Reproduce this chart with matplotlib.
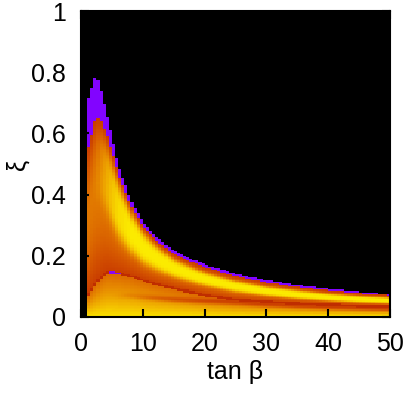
import numpy as np
import matplotlib
matplotlib.use("Agg")
import matplotlib.pyplot as plt

plt.rcParams['font.family'] = ['Liberation Sans', 'DejaVu Sans']

# --- values ---
# knots along tan(beta)
tanb_knots = [1, 1.5, 2.4, 3, 4, 5, 6, 8, 10, 12, 15, 20, 25, 30, 35, 40, 45, 50]
# upper edge of the allowed region in xi
xi_top = [0.69, 0.735, 0.79, 0.76, 0.675, 0.585, 0.50, 0.385, 0.31, 0.265, 0.215,
          0.172, 0.142, 0.12, 0.105, 0.093, 0.082, 0.074]
# lower (dashed) branch boundary
xi_low = [0.07, 0.082, 0.11, 0.125, 0.145, 0.145, 0.143, 0.135, 0.12, 0.108, 0.093,
          0.072, 0.057, 0.05, 0.044, 0.04, 0.036, 0.034]
# thickness of the violet rim below the upper edge
rim_width = [0.15, 0.16, 0.14, 0.11, 0.07, 0.045, 0.03, 0.018, 0.013, 0.011, 0.01,
             0.009, 0.008, 0.007, 0.006, 0.006, 0.004, 0.002]
# strength, relative position and half-width of the bright (yellow) ridge
ridge_amp = [0.0, 0.05, 0.15, 0.3, 0.55, 0.75, 0.9, 1, 1, 1, 1, 1, 1, 1, 1, 1, 1, 1]
ridge_pos = [0.72, 0.72, 0.72, 0.70, 0.68, 0.66, 0.64, 0.62, 0.60, 0.60, 0.59, 0.57,
             0.56, 0.55, 0.54, 0.53, 0.53, 0.53]
ridge_halfwidth = [0.2, 0.2, 0.2, 0.22, 0.24, 0.26, 0.28, 0.29, 0.29, 0.28, 0.26, 0.24,
                   0.23, 0.23, 0.24, 0.25, 0.26, 0.26]
# darker band inside the lower branch
band_center = [0.07, 0.07, 0.07, 0.07, 0.07, 0.07, 0.07, 0.07, 0.066, 0.063, 0.058,
               0.053, 0.05, 0.043, 0.038, 0.034, 0.031, 0.028]
band_amp = [0, 0, 0, 0, 0, 0, 0.05, 0.2, 0.35, 0.5, 0.7, 0.85, 1, 1, 1, 1, 1, 1]

x_ticks = [0, 10, 20, 30, 40, 50]
y_ticks = [0, 0.2, 0.4, 0.6, 0.8, 1]
y_ticklabels = ['0', '0.2', '0.4', '0.6', '0.8', '1']

# --- build the density field on the plotting grid ---
t_edges = np.arange(1.0, 50.0 + 1e-9, 0.5)
x_edges = np.arange(0.0, 1.0 + 1e-9, 0.005)
tc = 0.5 * (t_edges[:-1] + t_edges[1:])
xc = 0.5 * (x_edges[:-1] + x_edges[1:])
T, X = np.meshgrid(tc, xc)

top = np.interp(T, tanb_knots, xi_top)
low = np.interp(T, tanb_knots, xi_low)
rim = np.interp(T, tanb_knots, rim_width)
amp = np.interp(T, tanb_knots, ridge_amp)
rpos = np.interp(T, tanb_knots, ridge_pos)
rhw = np.interp(T, tanb_knots, ridge_halfwidth)
bc = np.interp(T, tanb_knots, band_center)
ba = np.interp(T, tanb_knots, band_amp)

V = np.zeros_like(T)
# lower branch
lower = X < low
lowval = 0.96 - 0.22 * (X / low)
lowval = lowval - ba * (lowval - 0.63) * np.exp(-((X - bc) / 0.009) ** 2)
V[lower] = lowval[lower]
# upper branch
body_top = top - rim
s = np.clip((X - low) / np.maximum(body_top - low, 1e-6), 0, 1)
base = 0.62 + 0.15 * np.sin(np.pi * s)
bump = np.clip(0.97 - base, 0, None) * np.exp(-((s - rpos) / rhw) ** 4)
upper = (X >= low) & (X <= body_top)
V[upper] = (base + amp * bump)[upper]
# violet rim
rimmask = (X > body_top) & (X <= top)
V[rimmask] = 0.26
# dark dashed boundary line
line = np.abs(X - low) < 0.004
V[line & (X <= top)] = 0.56
seg = line & (T > 4.3) & (T < 6.5)
V[seg] = 0.3

fig = plt.figure(figsize=(4.10, 3.93), dpi=100)
ax = fig.add_axes([81 / 410, 1 - 317 / 393, 309 / 410, 306 / 393])
ax.set_facecolor('black')
ax.pcolormesh(t_edges, x_edges, V, cmap='gnuplot', vmin=0, vmax=1, shading='flat')
ax.set_xlim(0, 50)
ax.set_ylim(0, 1)
ax.set_xticks(x_ticks)
ax.set_yticks(y_ticks)
ax.set_yticklabels(y_ticklabels)
ax.tick_params(direction='in', length=6, width=1.5, color='black', labelsize=18,
               top=True, right=True, pad=11)
for sp in ax.spines.values():
    sp.set_linewidth(1.5)
    sp.set_color('black')
ax.set_xlabel('tan β', fontsize=18)
ax.set_ylabel('ξ', fontsize=18)
ax.xaxis.set_label_coords(0.5, -0.14)
ax.yaxis.set_label_coords(-0.165, 0.5)
fig.savefig('out.png', dpi=100, facecolor='white')
